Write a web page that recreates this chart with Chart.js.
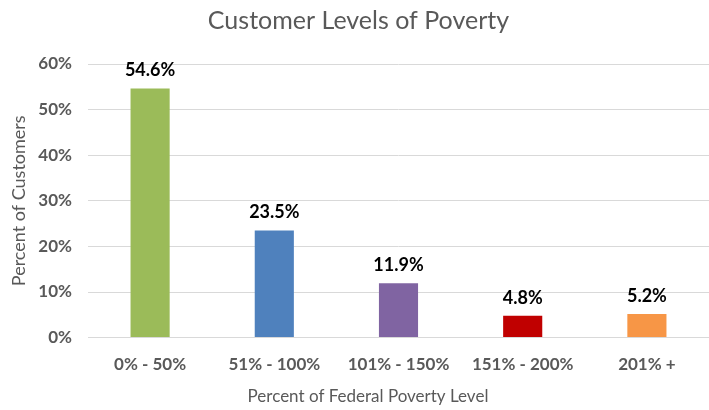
<!DOCTYPE html>
<html>
<head>
<meta charset="utf-8">
<script src="https://cdn.jsdelivr.net/npm/chart.js@4"></script>
<style>
  body { margin: 0; background: #fff; }
  #wrap { width: 709px; height: 410px; }
</style>
</head>
<body>
<div id="wrap"><canvas id="grafico"></canvas></div>
<script>
const categorias = ["0% - 50%", "51% - 100%", "101% - 150%", "151% - 200%", "201% +"];
const valores = [54.6, 23.5, 11.9, 4.8, 5.2];
const cores = ["#9bbb59", "#4f81bd", "#8064a2", "#c00000", "#f79646"];
const rotulos = ["54.6%", "23.5%", "11.9%", "4.8%", "5.2%"];
const tituloX = "Percent of Federal Poverty Level";

const fonte = "Lato, 'Open Sans', sans-serif";

// rótulos acima das barras + título do eixo X (deslocado à esquerda como no original)
const rotulosBarras = {
  id: "rotulosBarras",
  afterDraw(chart) {
    const ctx = chart.ctx;
    const meta = chart.getDatasetMeta(0);
    ctx.save();
    ctx.font = "bold 18px " + fonte;
    ctx.fillStyle = "#000";
    ctx.textAlign = "center";
    ctx.textBaseline = "bottom";
    meta.data.forEach((bar, i) => {
      ctx.fillText(rotulos[i], bar.x, bar.y - 9);
    });
    ctx.font = "17px " + fonte;
    ctx.fillStyle = "#595959";
    ctx.textBaseline = "middle";
    ctx.fillText(tituloX, 368, 397);
    ctx.restore();
  }
};

new Chart(document.getElementById("grafico"), {
  type: "bar",
  data: {
    labels: categorias,
    datasets: [{
      data: valores,
      backgroundColor: cores,
      categoryPercentage: 1,
      barPercentage: 0.315
    }]
  },
  options: {
    responsive: true,
    maintainAspectRatio: false,
    animation: false,
    layout: { padding: { left: 8, right: 0, top: 6, bottom: 18 } },
    plugins: {
      legend: { display: false },
      tooltip: { enabled: false },
      title: {
        display: true,
        text: "Customer Levels of Poverty",
        color: "#595959",
        font: { family: fonte, size: 25, weight: "normal" },
        padding: { top: 0, bottom: 28 }
      }
    },
    scales: {
      x: {
        grid: { display: false, drawTicks: false },
        border: { color: "#d9d9d9" },
        ticks: {
          color: "#595959",
          font: { family: fonte, size: 17, weight: "bold" },
          padding: 17
        }
      },
      y: {
        min: 0,
        max: 60,
        grid: { color: "#d9d9d9", drawTicks: false },
        border: { display: false },
        afterFit(scale) { scale.width = 80; },
        ticks: {
          stepSize: 10,
          color: "#595959",
          font: { family: fonte, size: 17, weight: "bold" },
          padding: 16,
          callback: v => v + "%"
        },
        title: {
          display: true,
          text: "Percent of Customers",
          color: "#595959",
          font: { family: fonte, size: 18 },
          padding: { top: 0, bottom: 0 }
        }
      }
    }
  },
  plugins: [rotulosBarras]
});
</script>
</body>
</html>
